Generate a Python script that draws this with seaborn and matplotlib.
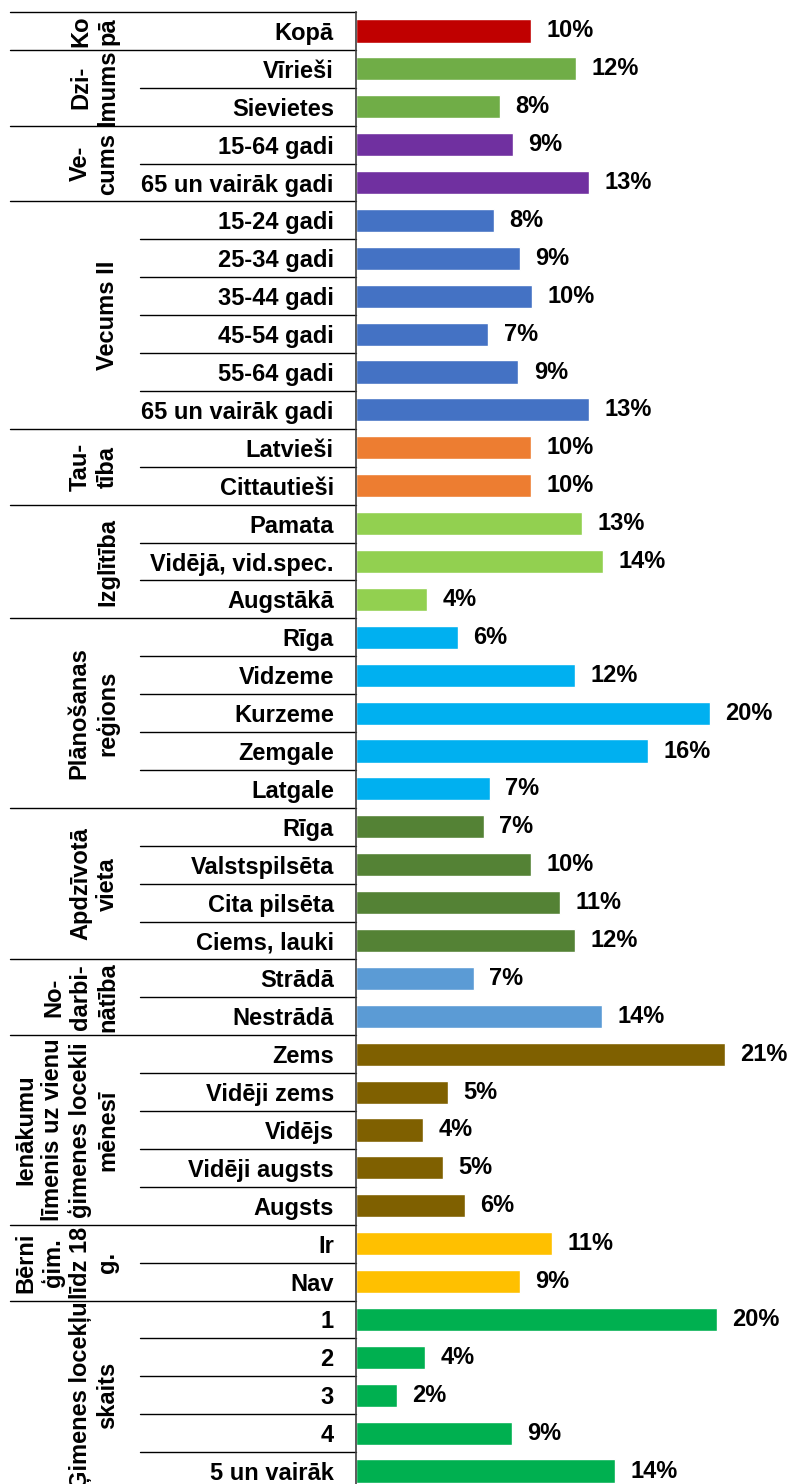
import pandas as pd
import matplotlib.pyplot as plt
import matplotlib.transforms as mtransforms
import seaborn as sns

sns.set_style("white")
plt.rcParams['font.family'] = ['Liberation Sans', 'DejaVu Sans']
plt.rcParams['font.weight'] = 'bold'
plt.rcParams['text.color'] = 'black'
plt.rcParams['ytick.color'] = 'black'

categories = [
    'Kopā',
    'Vīrieši', 'Sievietes',
    '15-64 gadi', '65 un vairāk gadi',
    '15-24 gadi', '25-34 gadi', '35-44 gadi', '45-54 gadi', '55-64 gadi', '65 un vairāk gadi',
    'Latvieši', 'Cittautieši',
    'Pamata', 'Vidējā, vid.spec.', 'Augstākā',
    'Rīga', 'Vidzeme', 'Kurzeme', 'Zemgale', 'Latgale',
    'Rīga', 'Valstspilsēta', 'Cita pilsēta', 'Ciems, lauki',
    'Strādā', 'Nestrādā',
    'Zems', 'Vidēji zems', 'Vidējs', 'Vidēji augsts', 'Augsts',
    'Ir', 'Nav',
    '1', '2', '3', '4', '5 un vairāk',
]
values = [
    9.73,
    12.26, 8.02,
    8.73, 12.96,
    7.69, 9.12, 9.79, 7.37, 9.04, 12.96,
    9.73, 9.73,
    12.57, 13.74, 3.96,
    5.68, 12.20, 19.72, 16.27, 7.47,
    7.13, 9.75, 11.36, 12.20,
    6.57, 13.69,
    20.54, 5.14, 3.75, 4.86, 6.07,
    10.92, 9.14,
    20.11, 3.84, 2.30, 8.67, 14.43,
]
group_names = [
    'Ko\npā', 'Dzi-\nlmums', 'Ve-\ncums', 'Vecums II', 'Tau-\ntība', 'Izglītība',
    'Plānošanas\nreģions', 'Apdzīvotā\nvieta', 'No-\ndarbi-\nnātība',
    'Ienākumu\nlīmenis uz vienu\nģimenes locekli\nmēnesī',
    'Bērni\nģim.\nlīdz 18\ng.', 'Ģimenes locekļu\nskaits',
]
group_sizes = [1, 2, 2, 6, 2, 3, 5, 4, 2, 5, 2, 5]
group_colors = [
    '#C00000', '#70AD47', '#7030A0', '#4472C4', '#ED7D31', '#92D050',
    '#00B0F0', '#548235', '#5B9BD5', '#7F6000', '#FFC000', '#00B050',
]

n = len(categories)
row_ids = [f"r{i:02d}" for i in range(n)]
row_colors = []
for col, size in zip(group_colors, group_sizes):
    row_colors += [col] * size

df = pd.DataFrame({'row': row_ids, 'value': values})

fig = plt.figure(figsize=(7.89, 14.84), dpi=100)
ax = fig.add_axes([356 / 789, -6 / 1484, 433 / 789, 1478 / 1484])

sns.barplot(data=df, x='value', y='row', hue='row', order=row_ids, hue_order=row_ids,
            palette=dict(zip(row_ids, row_colors)), orient='h', width=0.61,
            saturation=1, errorbar=None, legend=False, ax=ax)

for c in ax.containers:
    ax.bar_label(c, fmt='{:.0f}%', padding=11, fontsize=17, fontweight='bold', color='black')

ax.set_xlim(0, 24.1)
ax.set_ylim(n - 0.5, -0.5)
ax.set_yticks(range(n))
ax.set_yticklabels(categories, fontsize=17, fontweight='bold', color='black')
ax.tick_params(axis='y', length=0, pad=16)
ax.set_xticks([])
ax.set_xlabel('')
ax.set_ylabel('')
for s in ['top', 'right', 'bottom']:
    ax.spines[s].set_visible(False)
ax.spines['left'].set_color('#404040')
ax.spines['left'].set_linewidth(1.2)

# separator lines in the label area
trans = mtransforms.blended_transform_factory(fig.transFigure, ax.transData)
starts = [0]
for size in group_sizes[:-1]:
    starts.append(starts[-1] + size)
for b in range(n):
    x0 = 10 / 789 if b in starts else 140 / 789
    ax.plot([x0, 356 / 789], [b - 0.5, b - 0.5], color='black', lw=1.0,
            transform=trans, clip_on=False)

for name, start, size in zip(group_names, starts, group_sizes):
    ax.text(119 / 789, start + size / 2 - 0.5, name, transform=trans, rotation=90,
            ha='right', va='center', multialignment='center', fontsize=17,
            fontweight='bold', linespacing=1.22, clip_on=False)

fig.savefig('out.png', dpi=100)
